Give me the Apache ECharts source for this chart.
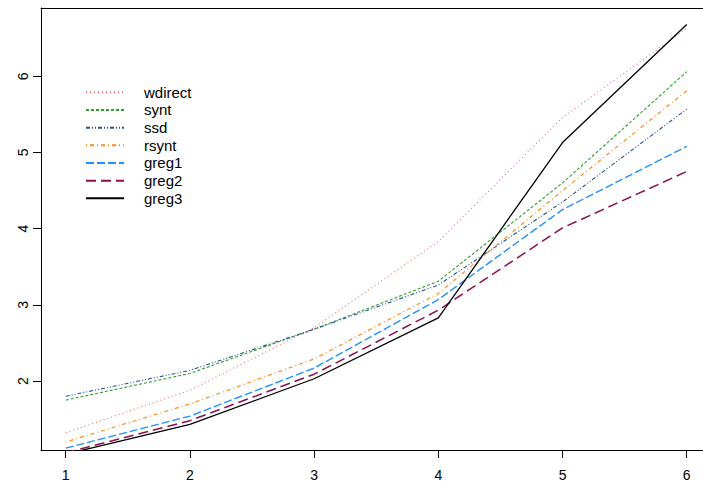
<!DOCTYPE html>
<html><head><meta charset="utf-8">
<script src="https://cdn.jsdelivr.net/npm/echarts@6/dist/echarts.min.js"></script>
<style>html,body{margin:0;padding:0;background:#fff}#c{width:703px;height:485px}</style>
</head><body><div id="c"></div>
<script>
var xs = [1, 2, 3, 4, 5, 6];
var wdirect = [1.32, 1.88, 2.70, 3.83, 5.46, 6.63];
var synt    = [1.75, 2.10, 2.68, 3.31, 4.60, 6.06];
var ssd     = [1.80, 2.14, 2.68, 3.26, 4.35, 5.57];
var rsynt   = [1.20, 1.70, 2.29, 3.15, 4.50, 5.81];
var greg1   = [1.12, 1.54, 2.17, 3.07, 4.25, 5.08];
var greg2   = [1.06, 1.48, 2.09, 2.93, 4.01, 4.75];
var greg3   = [1.04, 1.43, 2.03, 2.83, 5.13, 6.68];
var xTicks = [1, 2, 3, 4, 5, 6];
var yTicks = [2, 3, 4, 5, 6];
var names = ['wdirect', 'synt', 'ssd', 'rsynt', 'greg1', 'greg2', 'greg3'];
var values = [wdirect, synt, ssd, rsynt, greg1, greg2, greg3];
var colors = ['#F06A6A', '#2E9E2E', '#27508F', '#FF8C1A', '#1E90FF', '#8B1050', '#000000'];
var dashes = [[1, 3], [3, 2], [4, 2, 1, 2, 1, 2], [1, 3, 4, 3], [8, 3], [10, 5], 'solid'];
var widths = [1.1, 1.1, 1.1, 1.2, 1.4, 1.5, 1.3];

function pairs(v) { return xs.map(function (x, i) { return [x, v[i]]; }); }

var series = names.map(function (n, i) {
  return {
    name: n, type: 'line', data: pairs(values[i]), symbol: 'none', clip: true,
    xAxisIndex: 0, yAxisIndex: 0,
    lineStyle: { color: colors[i], type: dashes[i], width: widths[i] },
    itemStyle: { color: colors[i] }, animation: false
  };
});

var font = 'Liberation Sans, Arial, Helvetica, sans-serif';
var XMIN = 0.801, XMAX = 6.131;
var chart = echarts.init(document.getElementById('c'), null, { renderer: 'svg' });
chart.setOption({
  animation: false,
  backgroundColor: '#fff',
  grid: { left: 41, right: 0, top: 8, bottom: 35, show: false, containLabel: false },
  legend: {
    orient: 'vertical', left: 80, top: 77.3,
    itemWidth: 38, itemHeight: 10, itemGap: -2.33,
    data: names,
    itemStyle: { opacity: 0, borderWidth: 0 },
    textStyle: { fontFamily: font, fontSize: 15, color: '#000', lineHeight: 16, padding: [4, 0, 0, 15] }
  },
  xAxis: [{
    type: 'value', min: XMIN, max: XMAX,
    axisLine: { show: true, onZero: false, lineStyle: { color: '#000', width: 1 } },
    axisTick: { show: true, inside: false, length: 8, customValues: xTicks, lineStyle: { color: '#000' } },
    axisLabel: { customValues: xTicks, color: '#000', fontFamily: font, fontSize: 14, margin: 18 },
    splitLine: { show: false }
  }, {
    type: 'value', min: XMIN, max: XMAX, position: 'top',
    axisLine: { show: true, onZero: false, lineStyle: { color: '#000', width: 1 } },
    axisTick: { show: false }, axisLabel: { show: false }, splitLine: { show: false }
  }],
  yAxis: {
    type: 'value', min: 1.095, max: 6.896,
    axisLine: { show: true, onZero: false, lineStyle: { color: '#000', width: 1 } },
    axisTick: { show: true, inside: false, length: 8, customValues: yTicks, lineStyle: { color: '#000' } },
    axisLabel: { customValues: yTicks, color: '#000', fontFamily: font, fontSize: 14, margin: 11, rotate: 90 },
    splitLine: { show: false }
  },
  series: series
});
</script></body></html>
